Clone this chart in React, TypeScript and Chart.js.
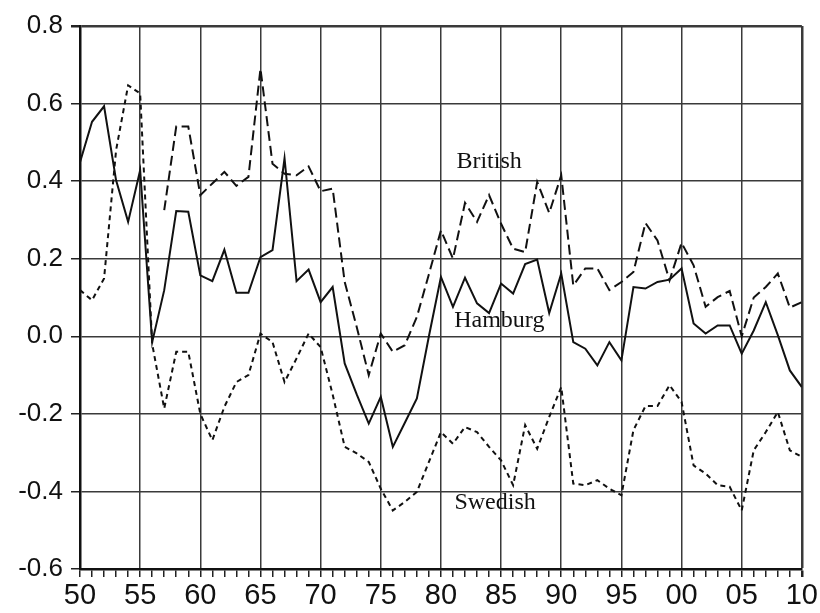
import React, { useEffect, useRef } from "react";
import { Chart, registerables } from "chart.js";

Chart.register(...registerables);

const years: number[] = [
  1950, 1951, 1952, 1953, 1954, 1955, 1956, 1957, 1958, 1959,
  1960, 1961, 1962, 1963, 1964, 1965, 1966, 1967, 1968, 1969,
  1970, 1971, 1972, 1973, 1974, 1975, 1976, 1977, 1978, 1979,
  1980, 1981, 1982, 1983, 1984, 1985, 1986, 1987, 1988, 1989,
  1990, 1991, 1992, 1993, 1994, 1995, 1996, 1997, 1998, 1999,
  2000, 2001, 2002, 2003, 2004, 2005, 2006, 2007, 2008, 2009, 2010,
];

const hamburg: number[] = [
  0.449, 0.553, 0.593, 0.402, 0.295, 0.428, -0.015, 0.119, 0.323, 0.321,
  0.157, 0.142, 0.223, 0.112, 0.112, 0.204, 0.222, 0.459, 0.142, 0.172,
  0.088, 0.127, -0.07, -0.15, -0.225, -0.156, -0.285, -0.223, -0.16, 0.0,
  0.153, 0.076, 0.151, 0.085, 0.06, 0.136, 0.11, 0.186, 0.198, 0.06,
  0.162, -0.015, -0.032, -0.075, -0.015, -0.062, 0.127, 0.123, 0.14, 0.146,
  0.175, 0.033, 0.007, 0.028, 0.028, -0.045, 0.015, 0.088, 0.003, -0.088, -0.131,
];

const british: (number | null)[] = [
  null, null, null, null, null, null, null, 0.325, 0.541, 0.541,
  0.364, 0.394, 0.424, 0.388, 0.411, 0.69, 0.445, 0.419, 0.415, 0.438,
  0.374, 0.381, 0.14, 0.024, -0.1, 0.007, -0.04, -0.023, 0.05, 0.16,
  0.273, 0.2, 0.344, 0.295, 0.364, 0.29, 0.226, 0.217, 0.398, 0.318,
  0.415, 0.131, 0.175, 0.175, 0.119, 0.14, 0.166, 0.292, 0.247, 0.144,
  0.241, 0.183, 0.076, 0.101, 0.117, 0.0, 0.1, 0.127, 0.162, 0.074, 0.088,
];

const swedish: number[] = [
  0.119, 0.093, 0.149, 0.48, 0.647, 0.626, -0.02, -0.186, -0.04, -0.04,
  -0.2, -0.268, -0.182, -0.118, -0.1, 0.007, -0.015, -0.118, -0.057, 0.007,
  -0.028, -0.15, -0.285, -0.302, -0.324, -0.393, -0.449, -0.427, -0.401, -0.324,
  -0.247, -0.277, -0.234, -0.247, -0.285, -0.32, -0.384, -0.229, -0.29, -0.208,
  -0.131, -0.38, -0.384, -0.371, -0.393, -0.41, -0.242, -0.18, -0.18, -0.126,
  -0.169, -0.333, -0.354, -0.384, -0.388, -0.449, -0.294, -0.247, -0.195, -0.294, -0.311,
];

const seriesLabels = [
  { text: "British", x: 1984.0, y: 0.451 },
  { text: "Hamburg", x: 1984.85, y: 0.041 },
  { text: "Swedish", x: 1984.5, y: -0.428 },
];

const toPoints = (vals: (number | null)[]) =>
  years.map((yr, i) => ({ x: yr, y: vals[i] }));

const labelPlugin = {
  id: "seriesLabels",
  afterDatasetsDraw(chart: any) {
    const { ctx, scales } = chart;
    ctx.save();
    ctx.font = '24px "Liberation Serif", "DejaVu Serif", serif';
    ctx.fillStyle = "#111";
    ctx.textAlign = "center";
    ctx.textBaseline = "middle";
    for (const l of seriesLabels) {
      ctx.fillText(l.text, scales.x.getPixelForValue(l.x), scales.y.getPixelForValue(l.y));
    }
    ctx.restore();
  },
};

export default function App() {
  const ref = useRef<HTMLCanvasElement | null>(null);
  useEffect(() => {
    document.body.style.margin = "0";
    const canvas = ref.current!;
    const chart = new Chart(canvas, {
      type: "line",
      data: {
        datasets: [
          {
            label: "Hamburg",
            data: toPoints(hamburg),
            borderColor: "#111",
            borderWidth: 2,
            pointRadius: 0,
            tension: 0,
          },
          {
            label: "British",
            data: toPoints(british),
            borderColor: "#111",
            borderWidth: 2,
            borderDash: [10, 5],
            pointRadius: 0,
            spanGaps: false,
            tension: 0,
          },
          {
            label: "Swedish",
            data: toPoints(swedish),
            borderColor: "#111",
            borderWidth: 2,
            borderDash: [5, 4],
            pointRadius: 0,
            tension: 0,
          },
        ],
      },
      options: {
        animation: false,
        responsive: false,
        devicePixelRatio: 1,
        layout: { padding: { top: 26, right: 17, left: 0, bottom: 0 } },
        plugins: {
          legend: { display: false },
          tooltip: { enabled: false },
        },
        scales: {
          x: {
            type: "linear",
            min: 1950,
            max: 2010,
            afterFit: (s: any) => {
              s.height = 44;
            },
            afterBuildTicks: (s: any) => {
              const t = [];
              for (let v = 1950; v <= 2010; v++) t.push({ value: v });
              s.ticks = t;
            },
            ticks: {
              autoSkip: false,
              maxRotation: 0,
              minRotation: 0,
              padding: 2,
              color: "#111",
              font: { family: "Liberation Sans, Arial, sans-serif", size: 29 },
              callback: (v: any) => {
                const n = Math.round(Number(v));
                if (n % 5 !== 0) return "";
                return String(n % 100).padStart(2, "0");
              },
            },
            grid: {
              color: (c: any) => {
                const v = c.tick ? Math.round(c.tick.value) : 0;
                return v % 5 === 0 ? "#3a3a3a" : "rgba(0,0,0,0)";
              },
              tickColor: "#222",
              lineWidth: (c: any) => {
                const v = c.tick ? Math.round(c.tick.value) : 0;
                return v === 2010 ? 2.5 : 1.5;
              },
              tickLength: 8,
              drawOnChartArea: true,
              drawTicks: true,
            },
            border: { display: true, color: "#111", width: 2.5 },
          },
          y: {
            type: "linear",
            min: -0.6,
            max: 0.8,
            afterFit: (s: any) => {
              s.width = 80;
            },
            ticks: {
              stepSize: 0.2,
              padding: 8,
              color: "#111",
              font: { family: "Liberation Sans, Arial, sans-serif", size: 26 },
              callback: (v: any) => Number(v).toFixed(1),
            },
            grid: {
              color: "#3a3a3a",
              lineWidth: (c: any) => {
                const v = c.tick ? c.tick.value : 0;
                return Math.abs(v - 0.8) < 1e-6 ? 2.5 : 1.5;
              },
              tickLength: 9,
              tickColor: "#222",
            },
            border: { display: true, color: "#111", width: 2.5 },
          },
        },
      },
      plugins: [labelPlugin],
    });
    return () => chart.destroy();
  }, []);
  return (
    <div style={{ width: 820, height: 613, background: "#fff" }}>
      <canvas ref={ref} width={820} height={613} style={{ display: "block" }} />
    </div>
  );
}
